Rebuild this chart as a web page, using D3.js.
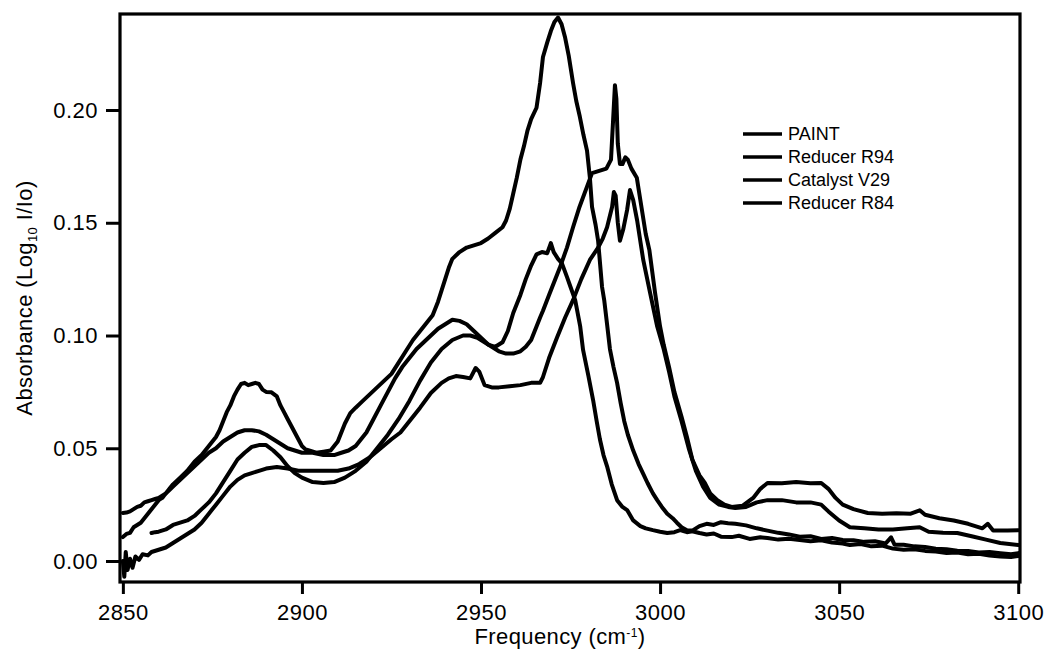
<!DOCTYPE html>
<html>
<head>
<meta charset="utf-8">
<script src="https://cdn.jsdelivr.net/npm/d3@7"></script>
<style>
  html, body { margin: 0; padding: 0; background: #fff; }
  svg { display: block; }
  text { font-family: "Liberation Sans", Arial, Helvetica, sans-serif; fill: #000; }
</style>
</head>
<body>
<svg id="chart" width="1047" height="662"></svg>
<script>
// IR absorbance spectra, C-H stretch region: [frequency (cm-1), absorbance]
const seriesNames = ["PAINT", "Reducer R94", "Catalyst V29", "Reducer R84"];

const paintSpectrum = [
  [2850,0.0106],[2851,0.012],[2852,0.0125],[2853,0.015],[2854,0.016],[2855,0.017],[2856,0.019],[2857,0.021],
  [2858,0.023],[2859,0.025],[2860,0.027],[2861,0.028],[2862,0.030],[2863,0.032],[2864,0.034],[2866,0.037],
  [2868,0.040],[2870,0.044],[2872,0.047],[2874,0.051],[2875,0.053],[2876,0.055],[2877,0.058],[2878,0.062],
  [2879,0.066],[2880,0.069],[2881,0.073],[2882,0.076],[2883,0.0785],[2884,0.079],[2885,0.078],[2886,0.0785],
  [2887,0.079],[2888,0.0785],[2889,0.076],[2890,0.075],[2891.5,0.0748],[2893,0.073],[2894,0.069],[2895,0.066],
  [2896,0.063],[2897,0.060],[2898,0.057],[2899,0.054],[2900,0.051],[2901,0.0495],[2902,0.049],[2904,0.048],
  [2906,0.0485],[2908,0.049],[2909,0.051],[2910,0.053],[2911,0.057],[2912,0.061],[2913.5,0.0656],[2915,0.068],
  [2917,0.071],[2919,0.074],[2921,0.077],[2923,0.080],[2925,0.083],[2927,0.088],[2929,0.093],[2931,0.098],
  [2933,0.102],[2935,0.106],[2936.5,0.109],[2938,0.115],[2939,0.120],[2940,0.125],[2941,0.130],[2942,0.134],
  [2944,0.137],[2946,0.139],[2948,0.140],[2950,0.141],[2952,0.143],[2954,0.1455],[2956,0.148],[2957,0.151],
  [2958,0.156],[2959,0.163],[2960,0.170],[2961,0.178],[2962,0.184],[2963,0.191],[2964,0.196],[2965.5,0.201],
  [2966.5,0.212],[2967.3,0.2235],[2968.5,0.230],[2969.5,0.235],[2970.5,0.239],[2971.5,0.241],[2972.5,0.238],
  [2973.5,0.232],[2974.5,0.224],[2975.7,0.212],[2976.6,0.204],[2977.6,0.197],[2978.6,0.189],[2979.6,0.182],
  [2980.4,0.170],[2981,0.157],[2982,0.149],[2982.7,0.142],[2983.8,0.1215],[2984.4,0.1157],[2985.2,0.105],
  [2986,0.094],[2987,0.086],[2988,0.079],[2989,0.070],[2990,0.062],[2991,0.056],[2992.5,0.049],[2994,0.043],
  [2995.5,0.038],[2996.5,0.0346],[2998,0.030],[2999.2,0.027],[3000.5,0.024],[3002,0.021],[3003.5,0.019],
  [3004.7,0.017],[3006,0.015],[3007.5,0.0137],[3009,0.0135],[3011,0.0155],[3013,0.0165],[3015,0.016],
  [3017,0.0172],[3019,0.0168],[3021,0.0165],[3024,0.0158],[3027,0.0145],[3030,0.0135],[3033,0.0125],
  [3036,0.0118],[3039,0.0108],[3042,0.011],[3045,0.0098],[3048,0.0102],[3051,0.0093],[3054,0.0092],
  [3057,0.0085],[3060,0.0088],[3063,0.0078],[3064.5,0.0105],[3065.5,0.0072],[3068,0.0072],[3071,0.0065],
  [3074,0.0062],[3077,0.0055],[3080,0.0052],[3083,0.0046],[3086,0.0045],[3089,0.0038],[3092,0.004],
  [3095,0.0035],[3098,0.003],[3100,0.0035]
];

const reducerR94Spectrum = [
  [2858,0.0124],[2859,0.0128],[2860,0.013],[2862,0.014],[2864,0.016],[2866,0.017],[2868,0.018],[2870,0.020],
  [2872,0.023],[2874,0.026],[2876,0.030],[2878,0.035],[2880,0.040],[2882,0.045],[2884,0.048],[2886,0.0506],
  [2888,0.0514],[2890,0.0514],[2892,0.049],[2894,0.046],[2896,0.042],[2898,0.039],[2900,0.037],[2903,0.035],
  [2906,0.0346],[2909,0.035],[2912,0.037],[2915,0.040],[2918,0.044],[2921,0.050],[2924,0.056],[2927,0.063],
  [2930,0.071],[2933,0.080],[2936,0.088],[2939,0.094],[2942,0.098],[2945,0.100],[2947,0.100],[2949,0.099],
  [2951,0.097],[2953,0.095],[2955,0.093],[2957,0.092],[2959,0.092],[2961,0.093],[2962.5,0.095],[2964,0.098],
  [2965,0.102],[2966.5,0.108],[2967.3,0.111],[2969,0.118],[2972,0.130],[2974,0.139],[2975.7,0.148],
  [2977.5,0.157],[2979.6,0.166],[2981,0.172],[2983,0.173],[2985,0.174],[2986.3,0.178],[2986.9,0.196],
  [2987.4,0.211],[2987.8,0.205],[2988.2,0.185],[2988.8,0.176],[2989.5,0.176],[2990.3,0.179],[2991,0.178],
  [2992,0.174],[2993.5,0.170],[2994.5,0.160],[2996,0.145],[2997,0.138],[2998.6,0.119],[3000,0.104],
  [3001,0.096],[3002.5,0.086],[3004,0.075],[3006,0.064],[3007.5,0.055],[3009,0.045],[3011,0.038],
  [3012.5,0.0346],[3014,0.030],[3016,0.027],[3018,0.025],[3020,0.024],[3023,0.0245],[3026,0.028],
  [3028,0.032],[3030,0.0346],[3034,0.0345],[3038,0.035],[3042,0.0345],[3045,0.0346],[3047,0.032],
  [3049,0.028],[3051,0.025],[3054,0.023],[3058,0.0213],[3062,0.021],[3066,0.0212],[3070,0.021],
  [3072.5,0.0225],[3074,0.0205],[3078,0.019],[3082,0.018],[3086,0.0165],[3090,0.0145],[3091.5,0.0165],
  [3093,0.0135],[3097,0.0135],[3100,0.0137]
];

const catalystV29Spectrum = [
  [2850,0.000],[2850.4,-0.007],[2850.8,0.004],[2851.3,-0.004],[2852,0.001],[2852.7,-0.003],[2853.5,0.002],
  [2854.5,0.0005],[2855.5,0.003],[2857,0.0025],[2858,0.004],[2860,0.005],[2862,0.006],[2864,0.008],
  [2866,0.010],[2868,0.012],[2870,0.014],[2872,0.017],[2874,0.021],[2876,0.025],[2878,0.029],[2880,0.033],
  [2882,0.036],[2884,0.038],[2886,0.039],[2888,0.040],[2890,0.041],[2893,0.0417],[2896,0.041],[2899,0.040],
  [2902,0.040],[2906,0.040],[2910,0.040],[2913,0.041],[2916,0.043],[2919,0.046],[2922,0.050],[2925,0.054],
  [2927.5,0.057],[2930,0.062],[2933,0.068],[2936,0.0745],[2939,0.079],[2941,0.081],[2943,0.082],
  [2945,0.0816],[2947,0.081],[2948.5,0.0856],[2949.5,0.084],[2951,0.078],[2953,0.077],[2955,0.077],
  [2958,0.0775],[2961,0.078],[2964,0.079],[2966.5,0.079],[2967.3,0.0816],[2969,0.090],[2971.2,0.099],
  [2973.5,0.108],[2975.7,0.1157],[2978,0.125],[2980.4,0.1335],[2982.7,0.139],[2984,0.143],[2985.2,0.148],
  [2986.6,0.157],[2987.1,0.1636],[2987.6,0.162],[2988.2,0.150],[2988.8,0.142],[2989.7,0.147],
  [2990.8,0.1557],[2991.6,0.1645],[2992.5,0.160],[2993.6,0.151],[2995.3,0.1335],[2997.2,0.119],
  [2999.2,0.104],[3001,0.094],[3002.5,0.084],[3004,0.073],[3006,0.062],[3008,0.050],[3010,0.040],
  [3012,0.033],[3014,0.028],[3016.5,0.025],[3019,0.024],[3021,0.0235],[3024,0.024],[3027,0.026],
  [3030,0.027],[3034,0.027],[3038,0.026],[3042,0.026],[3045,0.025],[3047,0.022],[3050,0.018],[3053,0.015],
  [3057,0.0145],[3061,0.014],[3065,0.014],[3069,0.0145],[3072.5,0.015],[3075,0.013],[3079,0.0125],
  [3083,0.0124],[3087,0.011],[3091,0.0095],[3095,0.008],[3100,0.0071]
];

const reducerR84Spectrum = [
  [2850,0.0213],[2851,0.0215],[2852,0.022],[2853,0.023],[2854,0.024],[2855,0.0245],[2856,0.026],[2857,0.0265],
  [2858,0.027],[2859,0.0275],[2860,0.028],[2861,0.029],[2862,0.030],[2863,0.0315],[2864,0.033],[2866,0.036],
  [2868,0.039],[2870,0.042],[2872,0.045],[2874,0.048],[2876,0.050],[2878,0.053],[2880,0.055],[2882,0.057],
  [2884,0.058],[2886,0.058],[2888,0.0575],[2890,0.056],[2892,0.054],[2894,0.052],[2896,0.050],[2898,0.049],
  [2900,0.048],[2903,0.048],[2906,0.047],[2909,0.047],[2911,0.048],[2913,0.049],[2915,0.051],[2918,0.057],
  [2920,0.063],[2922,0.069],[2924,0.075],[2926,0.081],[2928,0.086],[2930,0.090],[2932,0.094],[2934,0.097],
  [2936,0.100],[2938,0.103],[2940,0.105],[2942,0.107],[2944,0.1065],[2946,0.105],[2948,0.102],[2950,0.099],
  [2952,0.096],[2954,0.095],[2956,0.097],[2957.5,0.102],[2959,0.110],[2961,0.118],[2962.5,0.125],
  [2964,0.131],[2965.5,0.136],[2967,0.137],[2968.5,0.1365],[2969.5,0.141],[2970.3,0.137],[2971.5,0.134],
  [2972.6,0.132],[2974,0.126],[2975,0.1215],[2976.3,0.1157],[2977.7,0.104],[2978.5,0.0936],[2980,0.082],
  [2981.3,0.0714],[2982.3,0.062],[2983.2,0.054],[2984.2,0.047],[2985.2,0.042],[2986.5,0.034],[2988,0.027],
  [2989.5,0.024],[2990.8,0.0226],[2992.5,0.018],[2994.5,0.0155],[2996,0.0145],[2998,0.0137],[3000,0.013],
  [3002,0.0124],[3004,0.0128],[3005.6,0.0137],[3007.5,0.0128],[3009,0.0132],[3011,0.0124],[3013,0.0118],
  [3015,0.0122],[3017,0.0108],[3020,0.0106],[3022,0.0112],[3025,0.0098],[3028,0.0105],[3030,0.0102],
  [3033,0.0095],[3036,0.0099],[3039,0.0093],[3042,0.0088],[3045,0.0092],[3048,0.0082],[3051,0.0078],
  [3053,0.0071],[3056,0.0075],[3059,0.0065],[3062,0.0068],[3065,0.0055],[3068,0.005],[3071,0.0052],
  [3074,0.0045],[3077,0.0042],[3080,0.0036],[3083,0.0038],[3086,0.003],[3089,0.0032],[3092,0.0024],
  [3095,0.002],[3098,0.0018],[3100,0.0022]
];

const frequencyTicks = [2850, 2900, 2950, 3000, 3050, 3100];
const absorbanceTicks = [0.00, 0.05, 0.10, 0.15, 0.20];

const spectra = [paintSpectrum, reducerR94Spectrum, catalystV29Spectrum, reducerR84Spectrum];

// ---- layout ----
const svg = d3.select("#chart");
const plot = { left: 120, right: 1020, top: 14, bottom: 582 };

const x = d3.scaleLinear().domain([2849.2, 3100.5]).range([plot.left, plot.right]);
const y = d3.scaleLinear().domain([-0.0093, 0.24257]).range([plot.bottom, plot.top]);

svg.append("defs").append("clipPath").attr("id", "plot-clip")
  .append("rect")
  .attr("x", plot.left).attr("y", plot.top)
  .attr("width", plot.right - plot.left).attr("height", plot.bottom - plot.top);

// ---- spectra ----
const line = d3.line().x(d => x(d[0])).y(d => y(d[1])).curve(d3.curveLinear);

svg.append("g").attr("clip-path", "url(#plot-clip)")
  .selectAll("path")
  .data(spectra)
  .join("path")
  .attr("d", line)
  .attr("fill", "none")
  .attr("stroke", "#000")
  .attr("stroke-width", 4)
  .attr("stroke-linejoin", "round")
  .attr("stroke-linecap", "round");

// ---- axes ----
const fontSize = 22;

const yAxis = d3.axisLeft(y)
  .tickValues(absorbanceTicks)
  .tickFormat(d3.format(".2f"))
  .tickSize(14)
  .tickSizeOuter(0)
  .tickPadding(8);

const gy = svg.append("g").attr("transform", `translate(${plot.left},0)`).call(yAxis);
gy.select(".domain").remove();
gy.selectAll(".tick line").attr("stroke", "#000").attr("stroke-width", 3);
gy.selectAll(".tick text")
  .attr("font-size", fontSize)
  .attr("letter-spacing", "0.5px")
  .attr("font-family", "'Liberation Sans', Arial, sans-serif");

const xAxis = d3.axisBottom(x)
  .tickValues(frequencyTicks)
  .tickFormat(d3.format("d"))
  .tickSize(12)
  .tickSizeOuter(0);

const gx = svg.append("g").attr("transform", `translate(0,${plot.bottom})`).call(xAxis);
gx.select(".domain").remove();
gx.selectAll(".tick line").attr("stroke", "#000").attr("stroke-width", 3);
gx.selectAll(".tick text")
  .attr("y", 38).attr("dy", null)
  .attr("font-size", fontSize)
  .attr("letter-spacing", "0.5px")
  .attr("font-family", "'Liberation Sans', Arial, sans-serif");

// frame
svg.append("rect")
  .attr("x", plot.left).attr("y", plot.top)
  .attr("width", plot.right - plot.left).attr("height", plot.bottom - plot.top)
  .attr("fill", "none").attr("stroke", "#000").attr("stroke-width", 3.2);

// ---- axis titles ----
const xTitle = svg.append("text")
  .attr("x", 560).attr("y", 644)
  .attr("text-anchor", "middle")
  .attr("font-size", fontSize)
  .attr("letter-spacing", "0.4px");
xTitle.append("tspan").text("Frequency (cm");
xTitle.append("tspan").attr("font-size", 12).attr("dy", -7).text("-1");
xTitle.append("tspan").attr("dy", 7).text(")");

const yTitle = svg.append("text")
  .attr("transform", "translate(32,298) rotate(-90)")
  .attr("text-anchor", "middle")
  .attr("font-size", fontSize)
  .attr("letter-spacing", "0.4px");
yTitle.append("tspan").text("Absorbance (Log");
yTitle.append("tspan").attr("font-size", 13).attr("dy", 5).text("10");
yTitle.append("tspan").attr("dy", -5).text(" I/Io)");

// ---- legend ----
const legend = svg.append("g").attr("transform", "translate(743,133)");
const rows = legend.selectAll("g").data(seriesNames).join("g")
  .attr("transform", (d, i) => `translate(0,${i * 23})`);
rows.append("line")
  .attr("x1", 0).attr("x2", 39).attr("y1", 1).attr("y2", 1)
  .attr("stroke", "#000").attr("stroke-width", 3.4);
rows.append("text")
  .attr("x", 45).attr("y", 7)
  .attr("font-size", 18)
  .text(d => d);
</script>
</body>
</html>
